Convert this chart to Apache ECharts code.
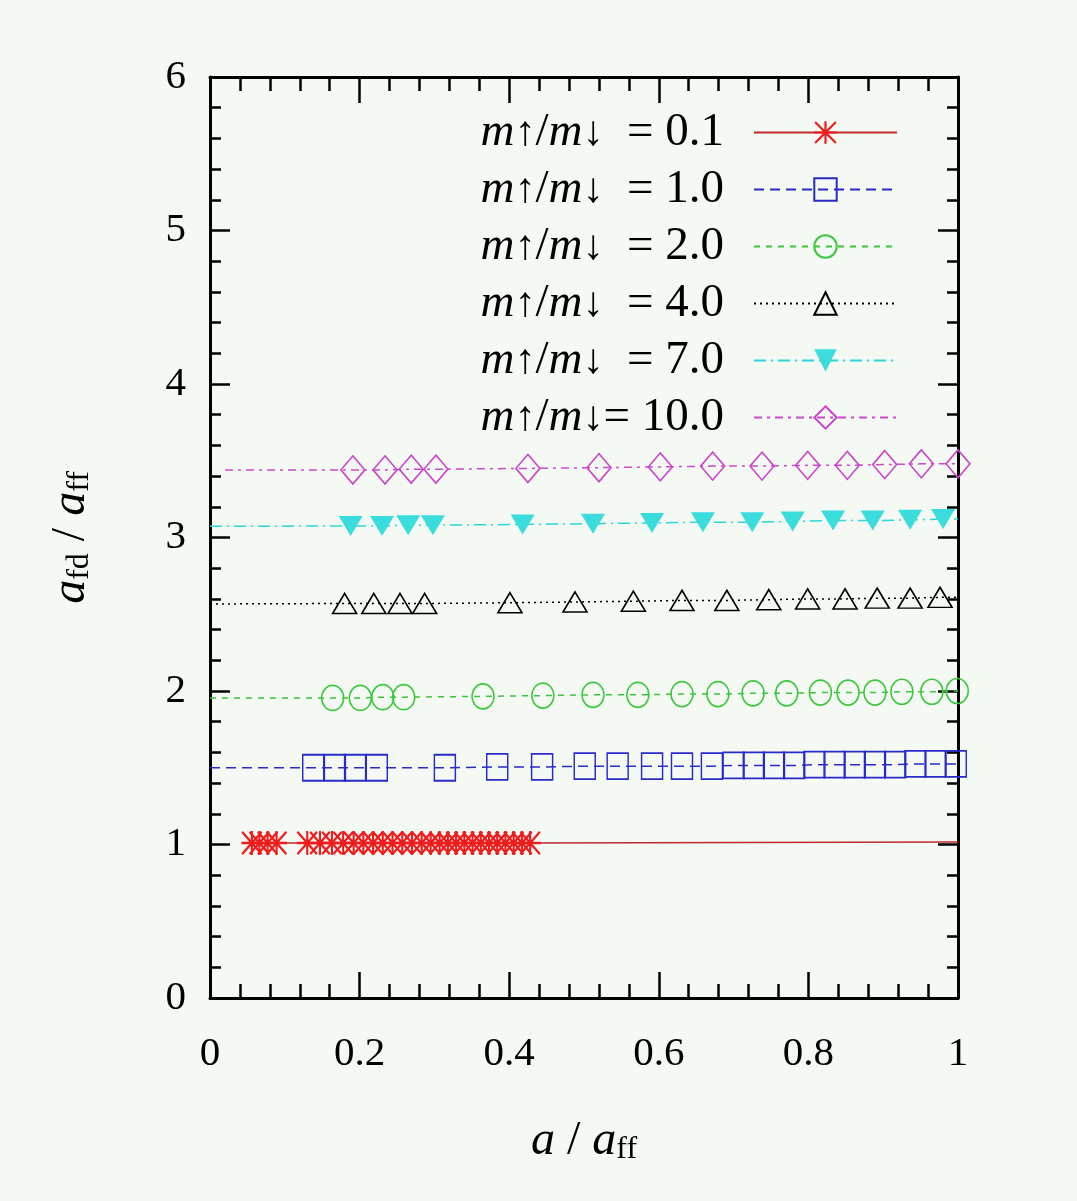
<!DOCTYPE html>
<html>
<head>
<meta charset="utf-8">
<title>a_fd / a_ff</title>
<script src="https://cdn.jsdelivr.net/npm/echarts@6/dist/echarts.min.js"></script>
<style>
  html, body { margin: 0; padding: 0; background: #f4f9f4; }
  #chart { width: 1077px; height: 1201px; }
</style>
</head>
<body>
<div id="chart"></div>
<script>
// mass ratios m_up / m_down, one curve each
const ratios = ['0.1', '1.0', '2.0', '4.0', '7.0', '10.0'];

// measured points (a / a_ff , a_fd / a_ff)
const x01 = [0.056, 0.066, 0.077, 0.089, 0.130, 0.147, 0.163, 0.178, 0.192, 0.205, 0.218, 0.231, 0.244, 0.257, 0.270,
  0.283, 0.295, 0.307, 0.318, 0.329, 0.340, 0.351, 0.362, 0.373, 0.384, 0.395, 0.406, 0.417, 0.428];
const y01 = [1.01, 1.01, 1.01, 1.01, 1.01, 1.01, 1.01, 1.01, 1.01, 1.01, 1.01, 1.01, 1.01, 1.01, 1.01,
  1.01, 1.01, 1.01, 1.01, 1.01, 1.01, 1.01, 1.01, 1.01, 1.01, 1.01, 1.01, 1.01, 1.01];

const x10 = [0.138, 0.167, 0.194, 0.223, 0.314, 0.384, 0.444, 0.501, 0.545, 0.591, 0.631, 0.671,
  0.700, 0.727, 0.754, 0.781, 0.808, 0.835, 0.862, 0.889, 0.916, 0.943, 0.970, 0.997];
const y10 = [1.50, 1.50, 1.50, 1.50, 1.50, 1.505, 1.505, 1.51, 1.51, 1.51, 1.51, 1.51,
  1.515, 1.515, 1.515, 1.515, 1.52, 1.52, 1.52, 1.52, 1.52, 1.525, 1.525, 1.525];

const x20 = [0.164, 0.201, 0.231, 0.259, 0.365, 0.445, 0.512, 0.572, 0.631, 0.679, 0.726, 0.771, 0.816, 0.853,
  0.889, 0.925, 0.965, 0.999];
const y20 = [1.955, 1.955, 1.96, 1.96, 1.965, 1.97, 1.975, 1.975, 1.98, 1.98, 1.985, 1.985, 1.99, 1.99,
  1.99, 1.995, 1.995, 2.0];

const x40 = [0.180, 0.219, 0.254, 0.287, 0.401, 0.488, 0.566, 0.631, 0.691, 0.747, 0.799, 0.849, 0.892, 0.936, 0.976];
const y40 = [2.57, 2.57, 2.57, 2.57, 2.575, 2.58, 2.585, 2.59, 2.59, 2.595, 2.60, 2.60, 2.605, 2.605, 2.61];

const x70 = [0.188, 0.230, 0.265, 0.298, 0.418, 0.512, 0.591, 0.659, 0.725, 0.779, 0.833, 0.886, 0.936, 0.980];
const y70 = [3.075, 3.075, 3.08, 3.08, 3.085, 3.09, 3.095, 3.10, 3.10, 3.105, 3.11, 3.11, 3.115, 3.12];

const x100 = [0.191, 0.234, 0.269, 0.302, 0.425, 0.520, 0.602, 0.672, 0.738, 0.799, 0.852, 0.902, 0.951, 1.0];
const y100 = [3.44, 3.44, 3.445, 3.445, 3.45, 3.455, 3.46, 3.465, 3.465, 3.47, 3.47, 3.475, 3.48, 3.48];

// ends of the drawn curves
const lineFrom = [[0.045, 1.01], [0.0, 1.50], [0.0, 1.955], [0.0, 2.567], [0.0, 3.073], [0.02, 3.44]];
const lineTo = [[1.0, 1.016], [1.0, 1.525], [1.0, 2.0], [1.0, 2.61], [1.0, 3.12], [1.0, 3.482]];

const pointsX = [x01, x10, x20, x40, x70, x100];
const pointsY = [y01, y10, y20, y40, y70, y100];

// styles
const FONT = 'Liberation Serif';
const STAR = 'path://M9,0H11V20H9Z M0,9H20V11H0Z M1.4,0L20,18.6L18.6,20L0,1.4Z M18.6,0L20,1.4L1.4,20L0,18.6Z';
const DOWN_TRI = 'path://M0,0H20L10,18Z';
const lineColors = ['#c02a2a', '#2a2ac4', '#3cc43c', '#000000', '#2ed6d6', '#cc48cc'];
const markColors = ['#ee1c1c', '#2a2ac8', '#3cc83c', '#000000', '#3adcdc', '#cc44cc'];
const symbols = [STAR, 'rect', 'circle', 'triangle', DOWN_TRI, 'diamond'];
const symbolSizes = [[21, 24], [21, 26], [22, 25], [24, 20], [24, 20], [24, 28]];
const filled = [true, false, false, false, true, false];
const dashes = ['solid', [10, 6], [6, 6], [2, 4], [12, 5, 2, 5], [8, 5, 3, 5]];

function makeSeries() {
  return ratios.map((r, k) => {
    let data = [{ value: lineFrom[k], symbol: 'none' }];
    for (let i = 0; i < pointsX[k].length; i++) {
      data.push([pointsX[k][i], pointsY[k][i]]);
    }
    data.push({ value: lineTo[k], symbol: 'none' });
    return {
      name: r,
      type: 'line',
      data: data,
      clip: false,
      symbol: symbols[k],
      symbolSize: symbolSizes[k],
      showAllSymbol: true,
      lineStyle: { color: lineColors[k], width: 1.5, type: dashes[k] },
      itemStyle: filled[k]
        ? { color: markColors[k], borderWidth: 0 }
        : { color: 'rgba(0,0,0,0)', borderColor: markColors[k], borderWidth: 1.6 },
      emphasis: { disabled: true },
      z: 2 + k
    };
  });
}

const subRich = {
  i: { fontFamily: FONT, fontStyle: 'italic', fontSize: 48, lineHeight: 50, color: '#000' },
  n: { fontFamily: FONT, fontSize: 48, lineHeight: 50, color: '#000' },
  s: { fontFamily: FONT, fontSize: 32, lineHeight: 24, verticalAlign: 'bottom', color: '#000' }
};

function axisBase(min, max, step, tickLen, minorLen) {
  return {
    type: 'value',
    min: min,
    max: max,
    interval: step,
    axisLine: { show: true, onZero: false, lineStyle: { color: '#000', width: 3 } },
    axisTick: { show: true, inside: true, length: tickLen, lineStyle: { color: '#000', width: 2.5 } },
    minorTick: { show: true, splitNumber: 5, length: minorLen, lineStyle: { color: '#000', width: 2.5 } },
    splitLine: { show: false },
    minorSplitLine: { show: false }
  };
}

let myChart = echarts.init(document.getElementById('chart'));
let option = {
  backgroundColor: '#f4f9f4',
  animation: false,
  textStyle: { fontFamily: FONT },
  grid: { left: 210, right: 119, top: 77, bottom: 203, containLabel: false },
  legend: {
    orient: 'vertical',
    align: 'right',
    right: 174,
    top: 104,
    itemWidth: 143,
    itemHeight: 28,
    itemGap: 10,
    selectedMode: false,
    data: ratios,
    formatter: function (name) {
      let gap = name === '10.0' ? '' : '  ';
      return '{i|m}{a|\u2191}{n|/}{i|m}{a|\u2193}{n|' + gap + '= ' + name + '}';
    },
    textStyle: {
      color: '#000',
      padding: [0, 25, 0, 0],
      rich: {
        i: { fontFamily: FONT, fontStyle: 'italic', fontSize: 47, lineHeight: 45, color: '#000' },
        n: { fontFamily: FONT, fontSize: 47, lineHeight: 45, color: '#000' },
        a: { fontFamily: FONT, fontSize: 42, lineHeight: 8, verticalAlign: 'bottom', color: '#000' }
      }
    }
  },
  xAxis: [
    Object.assign(axisBase(0, 1, 0.2, 26, 14), {
      position: 'bottom',
      name: '{i|a}{n| / }{i|a}{s|ff}',
      nameLocation: 'middle',
      nameGap: 118,
      nameTextStyle: { rich: subRich },
      axisLabel: { margin: 36, fontSize: 41, fontFamily: FONT, color: '#000' }
    }),
    Object.assign(axisBase(0, 1, 0.2, 26, 14), {
      position: 'top',
      axisLabel: { show: false }
    })
  ],
  yAxis: [
    Object.assign(axisBase(0, 6, 1, 20, 11), {
      position: 'left',
      name: '{i|a}{s|fd}{n| / }{i|a}{s|ff}',
      nameLocation: 'middle',
      nameRotate: 90,
      nameGap: 114,
      nameTextStyle: { rich: subRich },
      axisLabel: { margin: 24, fontSize: 41, fontFamily: FONT, color: '#000' }
    }),
    Object.assign(axisBase(0, 6, 1, 20, 11), {
      position: 'right',
      axisLabel: { show: false }
    })
  ],
  series: makeSeries()
};
myChart.setOption(option);
</script>
</body>
</html>
